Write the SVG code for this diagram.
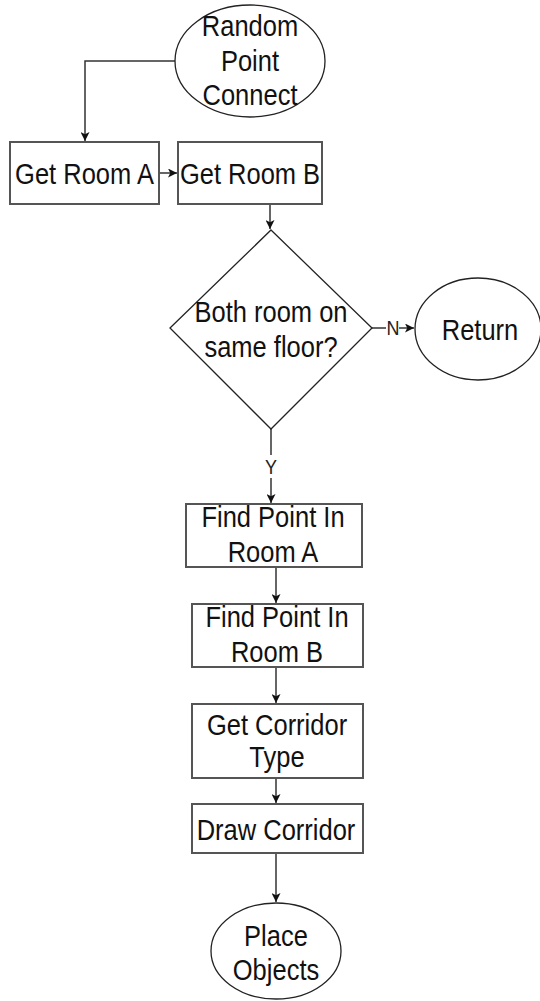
<svg xmlns="http://www.w3.org/2000/svg" width="540" height="1001" viewBox="0 0 540 1001">
  <defs>
    <marker id="arrow" viewBox="0 0 10 10" refX="10" refY="5" markerWidth="9" markerHeight="9" markerUnits="userSpaceOnUse" orient="auto">
      <path d="M0,0 L10,5 L0,10 L2.5,5 Z" fill="#111"/>
    </marker>
    <style>
      .box { fill: #fff; stroke: #555; stroke-width: 2; }
      .term { fill: #fff; stroke: #222; stroke-width: 1.3; }
      .edge { fill: none; stroke: #333; stroke-width: 1.5; marker-end: url(#arrow); }
      .plain { fill: none; stroke: #333; stroke-width: 1.5; }
      .lbl { font-family: "Liberation Sans", Arial, sans-serif; font-size: 25.5px; fill: #111; text-anchor: middle; }
      .elbl { font-family: "Liberation Sans", Arial, sans-serif; font-size: 18px; fill: #222; text-anchor: middle; }
    </style>
  </defs>

  <rect width="540" height="1001" fill="#fff"/>

  <!-- connectors -->
  <g id="connectors">
    <path class="edge" d="M175,61 H85 V141"/>
    <path class="edge" d="M159,173 H177"/>
    <path class="edge" d="M270,204 V229"/>
    <path class="plain" d="M372,328 H386"/>
    <path class="edge" d="M399,328 H414"/>
    <path class="plain" d="M271,429 V455"/>
    <path class="edge" d="M271,478 V503"/>
    <path class="edge" d="M276,567 V603"/>
    <path class="edge" d="M276,667 V703"/>
    <path class="edge" d="M276,778 V803"/>
    <path class="edge" d="M276,853 V902"/>
    <text class="elbl" transform="matrix(1,0,0,1.15,393,335)">N</text>
    <text class="elbl" transform="matrix(1,0,0,1.15,271,474)">Y</text>
  </g>

  <g id="start">
    <ellipse class="term" cx="250" cy="61" rx="75" ry="56"/>
    <text class="lbl" transform="matrix(1,0,0,1.15,250,36)"><tspan x="0" y="0">Random</tspan><tspan x="0" y="30.3">Point</tspan><tspan x="0" y="60">Connect</tspan></text>
  </g>

  <g id="get-room-a">
    <rect class="box" x="10" y="142" width="149" height="62"/>
    <text class="lbl" transform="matrix(1,0,0,1.15,84.5,183.5)">Get Room A</text>
  </g>

  <g id="get-room-b">
    <rect class="box" x="178" y="142" width="144" height="62"/>
    <text class="lbl" transform="matrix(1,0,0,1.15,250,183.5)">Get Room B</text>
  </g>

  <g id="same-floor">
    <polygon class="term" points="271,230 372,328 271,429 170,328"/>
    <text class="lbl" transform="matrix(1,0,0,1.15,271,321.7)"><tspan x="0" y="0">Both room on</tspan><tspan x="0" y="30.4">same floor?</tspan></text>
  </g>

  <g id="return">
    <ellipse class="term" cx="478" cy="329" rx="63" ry="51"/>
    <text class="lbl" transform="matrix(1,0,0,1.15,480,340)">Return</text>
  </g>

  <g id="find-point-a">
    <rect class="box" x="186" y="504" width="176" height="63"/>
    <text class="lbl" transform="matrix(1,0,0,1.15,273,526.7)"><tspan x="0" y="0">Find Point In</tspan><tspan x="0" y="30.4">Room A</tspan></text>
  </g>

  <g id="find-point-b">
    <rect class="box" x="192" y="604" width="171" height="63"/>
    <text class="lbl" transform="matrix(1,0,0,1.15,277,626.7)"><tspan x="0" y="0">Find Point In</tspan><tspan x="0" y="31">Room B</tspan></text>
  </g>

  <g id="corridor-type">
    <rect class="box" x="192" y="704" width="171" height="74"/>
    <text class="lbl" transform="matrix(1,0,0,1.15,277,734.5)"><tspan x="0" y="0">Get Corridor</tspan><tspan x="0" y="28.5">Type</tspan></text>
  </g>

  <g id="draw-corridor">
    <rect class="box" x="192" y="804" width="171" height="49"/>
    <text class="lbl" transform="matrix(1,0,0,1.15,276,840)">Draw Corridor</text>
  </g>

  <g id="place-objects">
    <ellipse class="term" cx="276" cy="951" rx="65" ry="48"/>
    <text class="lbl" transform="matrix(1,0,0,1.15,276,946)"><tspan x="0" y="0">Place</tspan><tspan x="0" y="30">Objects</tspan></text>
  </g>
</svg>
